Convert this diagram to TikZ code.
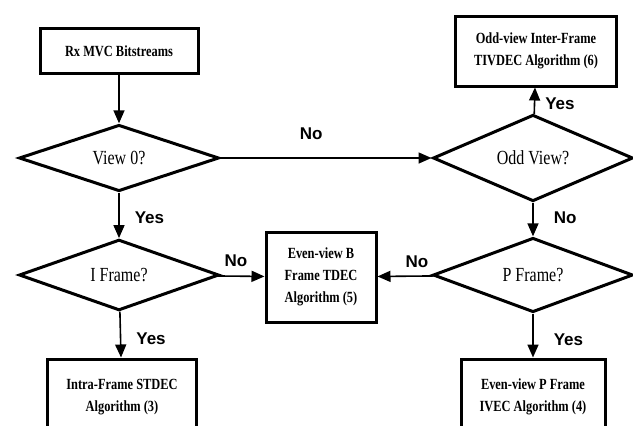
\documentclass[tikz,border=0pt]{standalone}
\usepackage{fontspec}
\setmainfont{Liberation Serif}[FakeStretch=0.8]
\newfontfamily\lblfont{Liberation Sans}
\usetikzlibrary{shapes.geometric, arrows.meta, positioning}

\tikzset{
  algobox/.style={draw, line width=3pt, align=center, inner sep=2pt,
    font=\bfseries\fontsize{15.5}{22}\selectfont},
  decide/.style={draw, diamond, line width=3pt, minimum width=200pt,
    minimum height=66pt, inner sep=0pt, font=\fontsize{20}{24}\selectfont},
  flow/.style={line width=1.6pt, -{Triangle[length=13pt,width=11pt]}},
  ans/.style={inner sep=1pt, font=\lblfont\bfseries\fontsize{17}{19}\selectfont}
}

\begin{document}
\begin{tikzpicture}[x=1pt, y=-1pt]
  \useasboundingbox (0,0) rectangle (633,426);

  % decisions
  \node[decide] (view0) at (119,158) {View 0?};
  \node[decide] (odd) at (533,158) {Odd View?};
  \node[decide] (iframe) at (119,275) {I Frame?};
  \node[decide] (pframe) at (533,275) {P Frame?};

  % boxes
  \node[algobox, minimum width=158pt, minimum height=45pt] (rx) at (119,51) {Rx MVC Bitstreams};
  \node[algobox, minimum width=161pt, minimum height=70pt] (tivdec) at (536,51) {Odd-view Inter-Frame\\TIVDEC Algorithm (6)};
  \node[algobox, minimum width=110pt, minimum height=90pt] (tdec) at (321,277) {Even-view B\\Frame TDEC\\Algorithm (5)};
  \node[algobox, minimum width=149pt, minimum height=76pt] (stdec) at (122,397) {Intra-Frame STDEC\\Algorithm (3)};
  \node[algobox, minimum width=144pt, minimum height=76pt] (ivec) at (533,397) {Even-view P Frame\\IVEC Algorithm (4)};

  % connectors
  \draw[flow] (rx) -- (view0);
  \draw[flow] (view0) -- node[ans, above=17pt, pos=0.43] {No} (odd);
  \draw[flow] (odd) -- node[ans, right=9pt, pos=0.37] {Yes} (tivdec);
  \draw[flow] (odd) -- node[ans, right=19pt, pos=0.46] {No} (pframe);
  \draw[flow] (view0) -- node[ans, right=14pt, pos=0.56] {Yes} (iframe);
  \draw[flow] (iframe) -- node[ans, above=8pt, pos=0.39] {No} (tdec);
  \draw[flow] (iframe) -- node[ans, right=14pt, pos=0.59] {Yes} (stdec);
  \draw[flow] (pframe) -- node[ans, above=7pt, pos=0.3] {No} (tdec);
  \draw[flow] (pframe) -- node[ans, right=19pt, pos=0.59] {Yes} (ivec);
\end{tikzpicture}
\end{document}
